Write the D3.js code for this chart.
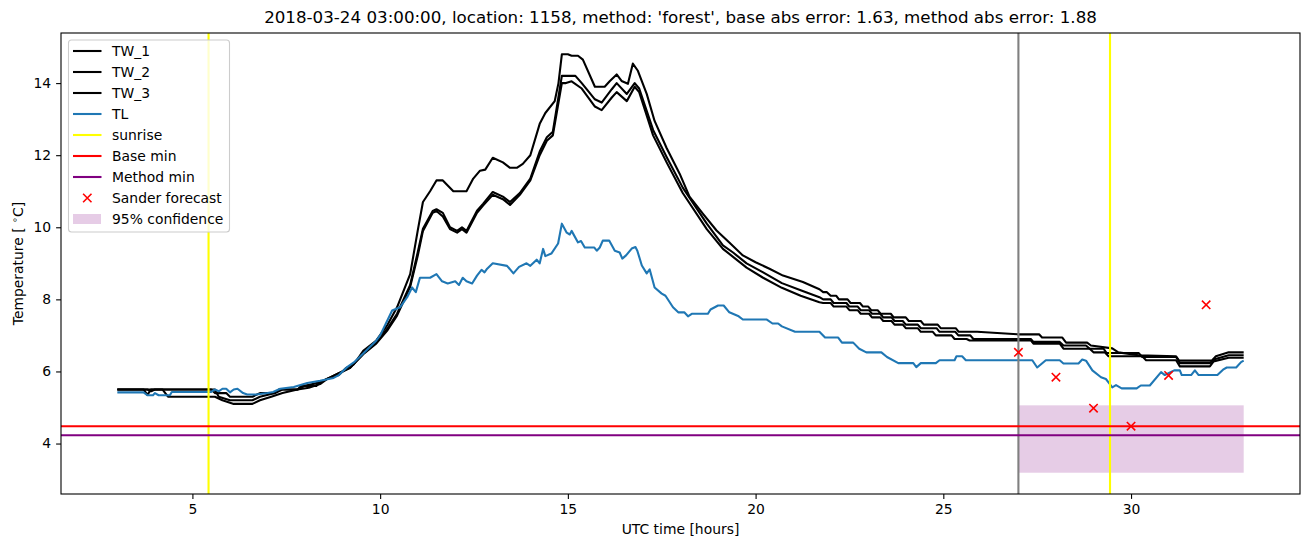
<!DOCTYPE html>
<html><head><meta charset="utf-8">
<script src="https://cdn.jsdelivr.net/npm/d3@7/dist/d3.min.js"></script>
<style>
body{margin:0;background:#fff;}
svg{display:block;font-family:"DejaVu Sans",sans-serif;}
</style></head>
<body><svg id="c" width="1310" height="547"></svg>
<script>
const titleText = "2018-03-24 03:00:00, location: 1158, method: 'forest', base abs error: 1.63, method abs error: 1.88";
const xTicks = [5, 10, 15, 20, 25, 30];
const yTicks = [4, 6, 8, 10, 12, 14];
const legendLabels = ["TW_1", "TW_2", "TW_3", "TL", "sunrise", "Base min", "Method min", "Sander forecast", "95% confidence"];

const tw1Hours = [3.0,3.8,3.9,4.0,5.5,5.6,5.9,6.0,6.6,6.8,7.2,7.3,7.8,7.9,8.3,8.4,8.6,8.9,9.1,9.3,9.55,9.9,10.2,10.45,10.8,11.0,11.14,11.33,11.5,11.67,11.95,12.3,12.48,12.66,12.8,13.0,13.27,13.46,13.64,13.8,14.0,14.25,14.4,14.65,14.75,14.84,15.0,15.1,15.27,15.4,15.72,15.98,16.12,16.3,16.43,16.6,16.73,16.86,17.1,17.31,17.63,17.98,18.24,18.6,18.96,19.3,19.66,20.0,20.37,20.73,21.26,21.7,21.8,21.9,22.0,22.15,22.22,22.45,22.53,22.78,22.86,23.0,23.08,23.25,23.33,23.6,23.68,24.0,24.08,24.4,24.48,24.85,24.93,25.33,25.41,25.9,26.97,27.55,27.63,28.17,28.27,28.83,28.93,29.5,29.66,30.2,31.2,31.28,32.15,32.26,32.6,33.0];
const tw1Values = [5.5,5.5,5.45,5.5,5.5,5.4,5.4,5.3,5.3,5.4,5.4,5.5,5.5,5.6,5.6,5.7,5.8,5.9,6.1,6.2,6.57,6.86,7.3,7.78,8.7,9.9,10.7,11.0,11.3,11.3,11.0,11.0,11.35,11.57,11.6,11.93,11.8,11.65,11.65,11.76,12.0,12.87,13.17,13.5,14.0,14.8,14.8,14.76,14.76,14.65,13.9,13.9,14.06,14.24,14.06,13.98,14.54,14.35,13.7,12.95,12.2,11.48,10.85,10.37,9.91,9.58,9.22,9.03,8.85,8.66,8.48,8.28,8.2,8.2,8.1,8.1,8.0,8.0,7.9,7.9,7.8,7.8,7.7,7.7,7.6,7.6,7.5,7.5,7.4,7.4,7.3,7.3,7.2,7.2,7.1,7.1,7.03,7.03,6.94,6.94,6.8,6.8,6.72,6.64,6.53,6.45,6.42,6.3,6.3,6.42,6.53,6.53];

const tw2Hours = [3.0,5.6,5.7,6.0,6.6,6.8,7.2,7.4,7.8,8.0,8.4,8.6,8.9,9.2,9.55,9.9,10.2,10.45,10.8,11.0,11.14,11.4,11.5,11.67,11.86,12.05,12.18,12.3,12.58,12.74,13.0,13.27,13.46,13.72,14.0,14.25,14.44,14.6,14.84,15.05,15.2,15.37,15.72,15.9,16.17,16.3,16.57,16.78,16.9,17.27,17.63,18.06,18.7,19.13,19.4,19.76,20.2,20.7,21.2,21.7,21.8,22.0,22.08,22.42,22.5,22.72,22.8,23.02,23.1,23.32,23.4,23.62,23.7,23.92,24.0,24.32,24.4,24.82,24.9,25.32,25.4,25.72,25.8,27.33,27.4,28.1,28.2,28.8,28.9,29.27,29.35,30.2,30.3,31.2,31.3,32.1,32.2,32.6,33.0];
const tw2Values = [5.5,5.5,5.3,5.2,5.2,5.3,5.4,5.5,5.5,5.6,5.7,5.8,5.95,6.1,6.5,6.8,7.2,7.6,8.4,9.3,9.96,10.45,10.5,10.4,10.0,9.9,10.0,9.9,10.46,10.65,10.98,10.85,10.7,10.95,11.35,12.1,12.5,12.65,14.2,14.2,14.2,14.0,13.55,13.46,13.83,14.0,13.7,14.0,13.85,12.7,11.95,11.1,10.1,9.5,9.3,9.0,8.75,8.45,8.25,8.06,8.0,8.0,7.9,7.9,7.8,7.8,7.7,7.7,7.6,7.6,7.5,7.5,7.4,7.4,7.3,7.3,7.2,7.2,7.1,7.1,7.0,7.0,6.9,6.9,6.82,6.82,6.72,6.72,6.63,6.63,6.51,6.51,6.4,6.4,6.23,6.23,6.33,6.45,6.45];

const tw3Hours = [3.0,3.7,3.8,3.9,4.2,4.35,5.6,5.8,6.1,6.6,6.8,7.1,7.4,7.8,8.1,8.4,8.6,8.9,9.2,9.55,9.9,10.2,10.45,10.8,11.0,11.14,11.4,11.5,11.67,11.86,12.05,12.18,12.3,12.58,12.74,13.0,13.27,13.46,13.72,14.0,14.25,14.44,14.6,14.84,14.95,15.1,15.37,15.72,15.9,16.17,16.3,16.57,16.78,16.9,17.27,17.63,18.06,18.7,19.13,19.4,19.76,20.2,20.7,21.2,21.7,21.8,22.0,22.08,22.42,22.5,22.72,22.8,23.02,23.1,23.32,23.4,23.62,23.7,23.92,24.0,24.32,24.4,24.72,24.8,25.22,25.3,25.62,25.7,27.33,27.4,28.1,28.2,28.9,29.0,29.3,29.4,30.3,30.4,31.2,31.3,32.1,32.2,32.6,33.0];
const tw3Values = [5.5,5.5,5.35,5.5,5.5,5.3,5.3,5.2,5.1,5.1,5.2,5.3,5.4,5.5,5.55,5.65,5.8,5.95,6.1,6.48,6.78,7.15,7.55,8.35,9.2,9.9,10.4,10.45,10.3,9.95,9.85,9.95,9.85,10.4,10.6,10.9,10.78,10.62,10.9,11.3,12.0,12.4,12.55,14.0,14.0,14.05,13.85,13.35,13.25,13.6,13.75,13.5,13.9,13.75,12.55,11.8,10.95,9.95,9.4,9.18,8.88,8.6,8.32,8.1,7.92,7.9,7.9,7.8,7.8,7.7,7.7,7.6,7.6,7.5,7.5,7.4,7.4,7.3,7.3,7.2,7.2,7.1,7.1,7.0,7.0,6.9,6.9,6.86,6.86,6.77,6.77,6.63,6.63,6.53,6.53,6.42,6.42,6.31,6.31,6.14,6.14,6.28,6.38,6.38];

const tlHours = [3.0,3.7,3.8,3.95,4.0,4.1,4.4,4.45,5.5,5.6,5.7,5.8,5.9,6.0,6.1,6.2,6.35,6.46,6.7,7.0,7.15,7.34,7.7,8.06,8.4,8.76,8.9,9.12,9.3,9.55,9.9,10.0,10.32,10.53,10.72,10.85,10.95,11.06,11.33,11.5,11.65,11.8,12.0,12.1,12.2,12.3,12.45,12.58,12.7,12.78,12.85,13.0,13.38,13.55,13.7,13.9,14.0,14.17,14.25,14.34,14.4,14.56,14.74,14.84,14.97,15.05,15.1,15.27,15.35,15.45,15.7,15.77,15.85,15.93,16.1,16.25,16.38,16.45,16.55,16.7,16.8,16.85,16.97,17.1,17.18,17.31,17.5,17.6,17.8,17.94,18.1,18.2,18.3,18.73,18.8,19.0,19.15,19.3,19.55,19.66,20.3,20.45,20.6,20.7,21.05,21.7,21.85,22.2,22.3,22.6,22.76,22.95,23.35,23.5,23.8,24.2,24.28,24.4,24.8,24.9,25.3,25.35,25.5,25.6,27.37,27.5,27.73,28.1,28.2,28.6,28.7,28.8,28.97,29.2,29.33,29.42,29.5,29.6,29.75,30.15,30.26,30.5,30.8,30.9,31.15,31.3,31.35,31.6,31.7,31.8,32.3,32.45,32.55,32.8,32.93,33.0];
const tlValues = [5.42,5.42,5.34,5.34,5.4,5.34,5.34,5.43,5.43,5.5,5.45,5.52,5.52,5.42,5.5,5.52,5.4,5.36,5.36,5.4,5.43,5.52,5.57,5.68,5.74,5.82,5.9,6.12,6.25,6.5,6.86,7.0,7.69,7.78,8.06,8.33,8.2,8.6,8.6,8.7,8.5,8.44,8.5,8.4,8.6,8.5,8.44,8.66,8.82,8.75,8.85,9.0,8.93,8.72,8.9,9.0,8.93,9.1,9.0,9.4,9.2,9.27,9.55,10.1,9.85,9.8,9.9,9.58,9.62,9.44,9.44,9.35,9.44,9.63,9.63,9.35,9.3,9.13,9.22,9.41,9.45,9.35,8.94,8.72,8.83,8.33,8.16,8.1,7.78,7.64,7.64,7.53,7.6,7.6,7.72,7.83,7.83,7.64,7.53,7.44,7.44,7.33,7.33,7.25,7.1,7.1,6.94,6.94,6.8,6.8,6.63,6.53,6.53,6.4,6.23,6.23,6.12,6.23,6.23,6.31,6.31,6.42,6.42,6.31,6.31,6.11,6.31,6.31,6.22,6.22,6.33,6.3,6.03,5.84,5.79,5.67,5.56,5.62,5.53,5.53,5.61,5.61,5.98,5.9,6.03,6.03,5.9,5.9,6.03,5.9,5.9,6.05,6.11,6.11,6.26,6.3];

const sunriseHours = [5.43, 29.44];
const forecastStartHour = 27.0;
const baseMin = 4.48;
const methodMin = 4.23;
const forecastHours = [27, 28, 29, 30, 31, 32];
const forecastValues = [6.53, 5.84, 4.98, 4.48, 5.89, 7.85];
const confidenceHours = [27, 33];
const confidenceRange = [3.19, 5.06];

const svg = d3.select("#c");
const m = {l: 61, r: 1300, t: 33, b: 494};
const x = d3.scaleLinear().domain([1.5, 34.5]).range([m.l, m.r]);
const y = d3.scaleLinear().domain([2.6, 15.39]).range([m.b, m.t]);

const clipId = "plotclip";
svg.append("defs").append("clipPath").attr("id", clipId).append("rect")
  .attr("x", m.l).attr("y", m.t).attr("width", m.r - m.l).attr("height", m.b - m.t);
const plot = svg.append("g").attr("clip-path", `url(#${clipId})`);

// confidence box
plot.append("rect")
  .attr("x", x(confidenceHours[0])).attr("width", x(confidenceHours[1]) - x(confidenceHours[0]))
  .attr("y", y(confidenceRange[1])).attr("height", y(confidenceRange[0]) - y(confidenceRange[1]))
  .attr("fill", "purple").attr("fill-opacity", 0.2);

const line = d3.line().x(d => x(d[0])).y(d => y(d[1]));
function series(hours, vals) { return hours.map((h, i) => [h, vals[i]]); }

[[tw1Hours, tw1Values], [tw2Hours, tw2Values], [tw3Hours, tw3Values]].forEach(([h, v]) => {
  plot.append("path").datum(series(h, v)).attr("d", line)
    .attr("fill", "none").attr("stroke", "#000").attr("stroke-width", 2.1).attr("stroke-linejoin", "round");
});
plot.append("path").datum(series(tlHours, tlValues)).attr("d", line)
  .attr("fill", "none").attr("stroke", "#1f77b4").attr("stroke-width", 2.1).attr("stroke-linejoin", "round");

// sunrise lines
sunriseHours.forEach(h => {
  plot.append("line").attr("x1", x(h)).attr("x2", x(h)).attr("y1", m.t).attr("y2", m.b)
    .attr("stroke", "yellow").attr("stroke-width", 2.1);
});
// forecast start
plot.append("line").attr("x1", x(forecastStartHour)).attr("x2", x(forecastStartHour)).attr("y1", m.t).attr("y2", m.b)
  .attr("stroke", "gray").attr("stroke-width", 2.1);
// mins
plot.append("line").attr("x1", m.l).attr("x2", m.r).attr("y1", y(baseMin)).attr("y2", y(baseMin))
  .attr("stroke", "red").attr("stroke-width", 2.1);
plot.append("line").attr("x1", m.l).attr("x2", m.r).attr("y1", y(methodMin)).attr("y2", y(methodMin))
  .attr("stroke", "purple").attr("stroke-width", 2.1);

// forecast markers
const s = 4.2;
forecastHours.forEach((h, i) => {
  const cx = x(h), cy = y(forecastValues[i]);
  plot.append("path").attr("d", `M${cx-s},${cy-s}L${cx+s},${cy+s}M${cx-s},${cy+s}L${cx+s},${cy-s}`)
    .attr("stroke", "red").attr("stroke-width", 1.6).attr("fill", "none");
});

// axes
const xAxis = d3.axisBottom(x).tickValues(xTicks).tickSize(4.9).tickPadding(4.9).tickFormat(d3.format("d"));
const yAxis = d3.axisLeft(y).tickValues(yTicks).tickSize(4.9).tickPadding(4.9).tickFormat(d3.format("d"));
const gx = svg.append("g").attr("transform", `translate(0,${m.b})`).call(xAxis);
const gy = svg.append("g").attr("transform", `translate(${m.l},0)`).call(yAxis);
[gx, gy].forEach(g => {
  g.select(".domain").remove();
  g.selectAll("line").attr("stroke", "#000").attr("stroke-width", 1.1);
  g.selectAll("text").attr("font-family", "DejaVu Sans").attr("font-size", 13.9).attr("fill", "#000");
});
// frame
svg.append("rect").attr("x", m.l).attr("y", m.t).attr("width", m.r - m.l).attr("height", m.b - m.t)
  .attr("fill", "none").attr("stroke", "#000").attr("stroke-width", 1.1);

// labels
svg.append("text").attr("x", (m.l + m.r) / 2).attr("y", 23).attr("text-anchor", "middle")
  .attr("font-size", 16.7).text(titleText);
svg.append("text").attr("x", (m.l + m.r) / 2).attr("y", 534).attr("text-anchor", "middle")
  .attr("font-size", 13.9).text("UTC time [hours]");
const yl = svg.append("text").attr("transform", `translate(23,${(m.t + m.b) / 2}) rotate(-90)`)
  .attr("text-anchor", "middle").attr("font-size", 13.9);
yl.append("tspan").text("Temperature [ ");
yl.append("tspan").attr("font-size", 9.7).attr("dy", -5).text("∘");
yl.append("tspan").attr("dy", 5).text("C]");

// legend
const lg = svg.append("g");
lg.append("rect").attr("x", 68.5).attr("y", 40).attr("width", 161).attr("height", 192).attr("rx", 3)
  .attr("fill", "#fff").attr("fill-opacity", 0.8).attr("stroke", "#ccc").attr("stroke-width", 1.1);
const rowY = d3.range(legendLabels.length).map(i => 51 + i * 21);
const legendKinds = [
  {t: "line", c: "#000"}, {t: "line", c: "#000"}, {t: "line", c: "#000"}, {t: "line", c: "#1f77b4"},
  {t: "line", c: "yellow"}, {t: "line", c: "red"}, {t: "line", c: "purple"}, {t: "x", c: "red"}, {t: "patch", c: "purple"}
];
legendLabels.forEach((lab, i) => {
  const yy = rowY[i], k = legendKinds[i];
  if (k.t === "line") {
    lg.append("line").attr("x1", 73).attr("x2", 101.5).attr("y1", yy).attr("y2", yy)
      .attr("stroke", k.c).attr("stroke-width", 2.1);
  } else if (k.t === "x") {
    const cx = 87.3;
    lg.append("path").attr("d", `M${cx-s},${yy-s}L${cx+s},${yy+s}M${cx-s},${yy+s}L${cx+s},${yy-s}`)
      .attr("stroke", "red").attr("stroke-width", 1.6);
  } else {
    lg.append("rect").attr("x", 73).attr("y", yy - 5).attr("width", 28).attr("height", 10)
      .attr("fill", k.c).attr("fill-opacity", 0.2);
  }
  lg.append("text").attr("x", 112).attr("y", yy + 5).attr("font-size", 13.9).text(lab);
});
</script></body></html>
